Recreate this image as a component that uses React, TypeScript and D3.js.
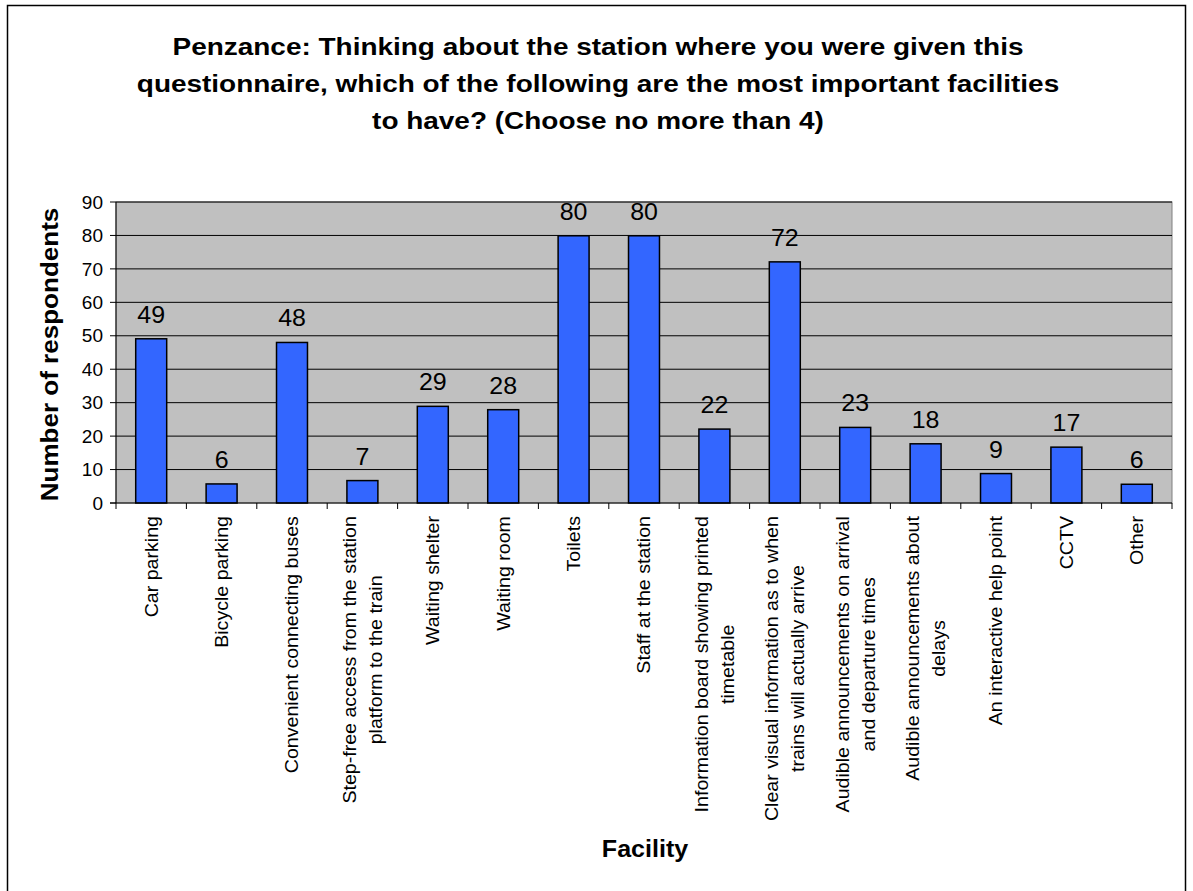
import React from "react";
import * as d3 from "d3";

const titleLines = [
  "Penzance: Thinking about the station where you were given this",
  "questionnaire, which of the following are the most important facilities",
  "to have? (Choose no more than 4)",
];

const categories = [
  ["Car parking"],
  ["Bicycle parking"],
  ["Convenient connecting buses"],
  ["Step-free access from the station", "platform to the train"],
  ["Waiting shelter"],
  ["Waiting room"],
  ["Toilets"],
  ["Staff at the station"],
  ["Information board showing printed", "timetable"],
  ["Clear visual information as to when", "trains will actually arrive"],
  ["Audible announcements on arrival", "and departure times"],
  ["Audible announcements about", "delays"],
  ["An interactive help point"],
  ["CCTV"],
  ["Other"],
];

const values = [49.1, 5.7, 48.0, 6.7, 28.9, 27.9, 79.9, 79.9, 22.1, 72.1, 22.6, 17.7, 8.8, 16.7, 5.6];

const yTicks = [0, 10, 20, 30, 40, 50, 60, 70, 80, 90];

const yTitle = "Number of respondents";
const xTitle = "Facility";

const W = 1193;
const H = 891;
const FONT = "Arial, 'Liberation Sans', sans-serif";

let ctx: CanvasRenderingContext2D | null = null;
function measure(text: string, font: string): number {
  if (!ctx) {
    const c = document.createElement("canvas");
    ctx = c.getContext("2d");
  }
  if (!ctx) return text.length * 9;
  ctx.font = font;
  return ctx.measureText(text).width;
}

export default function App() {
  const left = 116;
  const right = 1172;
  const top = 202;
  const bottom = 503;

  const idx = categories.map((_, i) => String(i));
  const x = d3.scaleBand<string>().domain(idx).range([left, right]).paddingInner(0).paddingOuter(0);
  const y = d3.scaleLinear().domain([0, 90]).range([bottom, top]);
  const band = x.bandwidth();
  const barW = band * 0.44;

  const catFontSize = 18.5;
  const catStretch = 1.06;
  const catFont = `${catFontSize}px Arial`;
  const lineGap = 26;

  return (
    <svg width={W} height={H} style={{ position: "absolute", left: 0, top: 0, background: "#fff" }}>
      <rect x={7.5} y={5.5} width={1178} height={900} fill="#fff" stroke="#000" strokeWidth={1.5} />
      {titleLines.map((t, i) => (
        <text
          key={i}
          transform={`translate(598,${55 + i * 37}) scale(1.19,1)`}
          textAnchor="middle"
          fontFamily={FONT}
          fontWeight="bold"
          fontSize={23.5}
          fill="#000"
        >
          {t}
        </text>
      ))}
      <rect x={left} y={top} width={right - left} height={bottom - top} fill="#C0C0C0" stroke="#808080" strokeWidth={1} />
      {yTicks.filter((t) => t > 0).map((t) => (
        <line key={t} x1={left} x2={right} y1={y(t)} y2={y(t)} stroke="#000" strokeWidth={1} />
      ))}
      {values.map((v, i) => {
        const cx = (x(String(i)) as number) + band / 2;
        return (
          <g key={i}>
            <rect x={cx - barW / 2} y={y(v)} width={barW} height={y(0) - y(v)} fill="#3366FF" stroke="#000" strokeWidth={1.5} />
            <text
              transform={`translate(${cx},${y(v) - 16}) scale(1.04,1)`}
              textAnchor="middle"
              fontFamily={FONT}
              fontSize={24}
              fill="#000"
            >
              {d3.format(".0f")(v)}
            </text>
          </g>
        );
      })}
      <line x1={left} x2={left} y1={top} y2={bottom} stroke="#000" strokeWidth={1} />
      <line x1={left - 6} x2={right} y1={bottom} y2={bottom} stroke="#000" strokeWidth={1} />
      {yTicks.map((t) => (
        <g key={t}>
          <line x1={left - 6} x2={left} y1={y(t)} y2={y(t)} stroke="#000" strokeWidth={1} />
          <text x={103} y={y(t)} dy="0.35em" textAnchor="end" fontFamily={FONT} fontSize={19} fill="#000">
            {t}
          </text>
        </g>
      ))}
      {d3.range(categories.length + 1).map((i) => {
        const xx = left + i * band;
        return <line key={i} x1={xx} x2={xx} y1={bottom} y2={bottom + 6} stroke="#000" strokeWidth={1} />;
      })}
      {categories.map((lines, i) => {
        const cx = (x(String(i)) as number) + band / 2;
        const widths = lines.map((l) => measure(l, catFont) * catStretch);
        const maxW = Math.max(...widths);
        const n = lines.length;
        return (
          <g key={i}>
            {lines.map((l, j) => {
              const lx = cx + (j - (n - 1) / 2) * lineGap;
              const ly = 516 + maxW / 2;
              return (
                <text
                  key={j}
                  transform={`translate(${lx},${ly}) rotate(-90) scale(${catStretch},1)`}
                  textAnchor="middle"
                  dy="0.35em"
                  fontFamily={FONT}
                  fontSize={catFontSize}
                  fill="#000"
                >
                  {l}
                </text>
              );
            })}
          </g>
        );
      })}
      <text
        transform={`translate(50,${(top + bottom) / 2 + 2}) rotate(-90) scale(1.085,1)`}
        textAnchor="middle"
        dy="0.35em"
        fontFamily={FONT}
        fontWeight="bold"
        fontSize={24}
        fill="#000"
      >
        {yTitle}
      </text>
      <text transform={`translate(645,857) scale(1.09,1)`} textAnchor="middle" fontFamily={FONT} fontWeight="bold" fontSize={23} fill="#000">
        {xTitle}
      </text>
    </svg>
  );
}
